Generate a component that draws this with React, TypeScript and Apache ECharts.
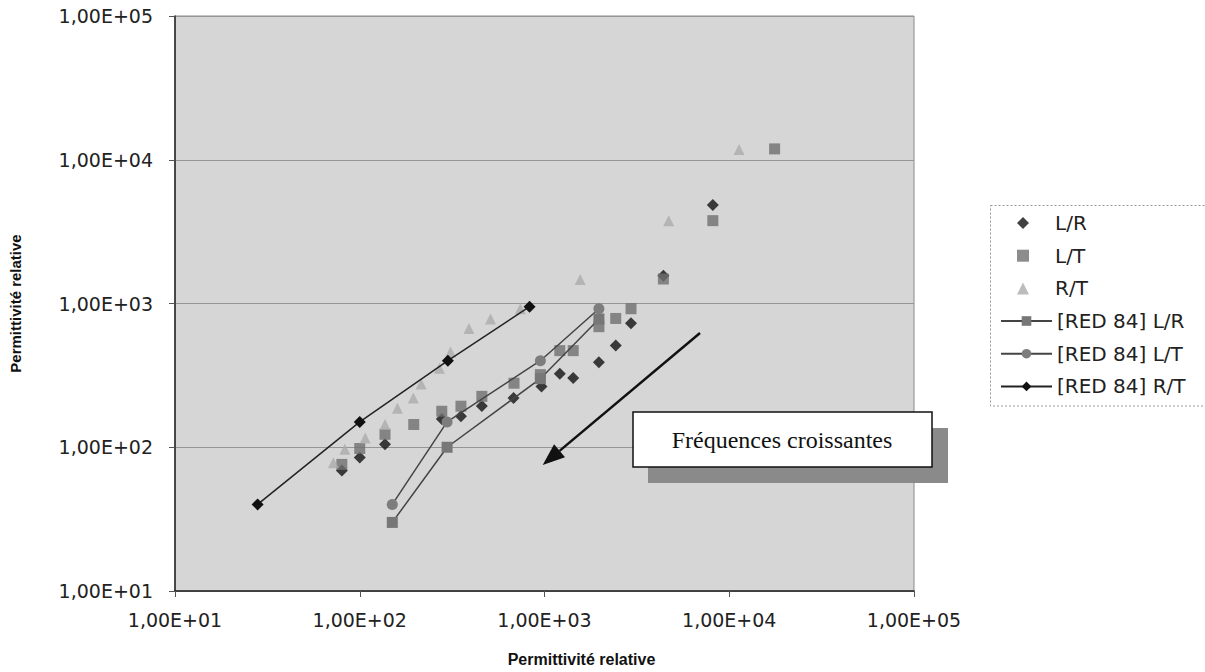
import React, { useEffect, useRef } from "react";
import * as echarts from "echarts";

// Scatter: L/R
const lrX = [80, 100, 137, 278, 353, 458, 680, 963, 1210, 1430, 1970, 2430, 2940, 4400, 8150];
const lrY = [69, 85, 105, 157, 164, 194, 220, 265, 325, 303, 390, 510, 730, 1560, 4840];
// Scatter: L/T
const ltX = [80, 100, 137, 196, 278, 353, 458, 684, 950, 1210, 1430, 1970, 2430, 2940, 4400, 8150, 17600];
const ltY = [76, 98, 123, 144, 178, 193, 226, 279, 320, 470, 470, 690, 787, 920, 1480, 3770, 11900];
// Scatter: R/T
const rtX = [72, 83, 107, 137, 160, 195, 215, 270, 310, 390, 510, 740, 1560, 4700, 11300];
const rtY = [78, 97, 116, 144, 187, 220, 275, 355, 460, 670, 780, 920, 1470, 3770, 11800];
// [RED 84] lines
const red84LrX = [150, 297, 950, 1970];
const red84LrY = [30, 100, 300, 780];
const red84LtX = [150, 297, 950, 1970];
const red84LtY = [40, 150, 400, 920];
const red84RtX = [28, 100, 300, 830];
const red84RtY = [40, 150, 400, 950];

const seriesNames = ["L/R", "L/T", "R/T", "[RED 84] L/R", "[RED 84] L/T", "[RED 84] R/T"];
const axisTitle = "Permittivité relative";
const boxText = "Fréquences croissantes";

const zip = (xs: number[], ys: number[]) => xs.map((x, i) => [x, ys[i]]);

const fmt = (v: number) => {
  const e = Math.round(Math.log10(v));
  return "1,00E+" + (e < 10 ? "0" + e : String(e));
};

const SANS = "DejaVu Sans";

export default function App() {
  const ref = useRef<HTMLDivElement>(null);
  useEffect(() => {
    document.body.style.margin = "0";
    if (!ref.current) return;
    const chart = echarts.init(ref.current, undefined, { renderer: "svg" });

    // arrow geometry (annotation)
    const tail = [700, 333];
    const tip = [542.7, 465];
    const dx = tip[0] - tail[0];
    const dy = tip[1] - tail[1];
    const len = Math.sqrt(dx * dx + dy * dy);
    const ux = dx / len;
    const uy = dy / len;
    const headL = 22;
    const headW = 8.5;
    const bc = [tip[0] - headL * ux, tip[1] - headL * uy];
    const px = -uy;
    const py = ux;

    const legendText = { fontFamily: SANS, fontSize: 20, color: "#222", lineHeight: 20 };

    chart.setOption({
      animation: false,
      grid: {
        left: 173,
        right: 291,
        top: 16,
        bottom: 78,
        show: true,
        backgroundColor: "#d6d6d6",
        borderColor: "#8a8a8a",
        borderWidth: 1,
      },
      xAxis: {
        type: "log",
        logBase: 10,
        min: 10,
        max: 100000,
        name: axisTitle,
        nameLocation: "middle",
        nameGap: 60,
        nameTextStyle: {
          fontFamily: "Liberation Sans",
          fontWeight: "bold",
          fontSize: 16,
          color: "#111",
          padding: [0, 0, 0, 74],
        },
        axisLine: { show: true, lineStyle: { color: "#222", width: 1.5 } },
        axisTick: { show: true, length: 6, lineStyle: { color: "#555" } },
        axisLabel: {
          formatter: fmt,
          margin: 19,
          fontFamily: SANS,
          fontSize: 19,
          color: "#222",
        },
        splitLine: { show: false },
        minorTick: { show: false },
      },
      yAxis: {
        type: "log",
        logBase: 10,
        min: 10,
        max: 100000,
        name: axisTitle,
        nameLocation: "middle",
        nameGap: 152,
        nameRotate: 90,
        nameTextStyle: {
          fontFamily: "Liberation Sans",
          fontWeight: "bold",
          fontSize: 15,
          color: "#111",
        },
        axisLine: { show: true, lineStyle: { color: "#222", width: 1.5 } },
        axisTick: { show: true, length: 6, lineStyle: { color: "#555" } },
        axisLabel: {
          formatter: fmt,
          margin: 22,
          fontFamily: SANS,
          fontSize: 19,
          color: "#222",
        },
        splitLine: { show: true, lineStyle: { color: "#959595", width: 1 } },
      },
      legend: [
        {
          orient: "vertical",
          left: 1017,
          top: 213,
          padding: 0,
          itemWidth: 12,
          itemHeight: 12,
          itemGap: 12.7,
          textStyle: { ...legendText, padding: [0, 0, 0, 21] },
          data: seriesNames.slice(0, 3),
        },
        {
          orient: "vertical",
          left: 1000,
          top: 311,
          padding: 0,
          itemWidth: 51,
          itemHeight: 12,
          itemGap: 12.7,
          textStyle: legendText,
          data: seriesNames.slice(3),
        },
      ],
      series: [
        {
          name: seriesNames[0],
          type: "scatter",
          symbol: "diamond",
          symbolSize: 12,
          itemStyle: { color: "#111" },
          data: zip(lrX, lrY),
        },
        {
          name: seriesNames[1],
          type: "scatter",
          symbol: "rect",
          symbolSize: 11,
          itemStyle: { color: "#6f6f6f" },
          data: zip(ltX, ltY),
        },
        {
          name: seriesNames[2],
          type: "scatter",
          symbol: "triangle",
          symbolSize: 11,
          itemStyle: { color: "#ababab" },
          data: zip(rtX, rtY),
        },
        {
          name: seriesNames[3],
          type: "line",
          symbol: "rect",
          symbolSize: 11,
          showSymbol: true,
          itemStyle: { color: "#777" },
          lineStyle: { color: "#444", width: 1.5 },
          data: zip(red84LrX, red84LrY),
        },
        {
          name: seriesNames[4],
          type: "line",
          symbol: "circle",
          symbolSize: 11,
          showSymbol: true,
          itemStyle: { color: "#7d7d7d" },
          lineStyle: { color: "#444", width: 1.5 },
          data: zip(red84LtX, red84LtY),
        },
        {
          name: seriesNames[5],
          type: "line",
          symbol: "diamond",
          symbolSize: 12,
          showSymbol: true,
          itemStyle: { color: "#111" },
          lineStyle: { color: "#222", width: 1.5 },
          data: zip(red84RtX, red84RtY),
        },
      ],
      graphic: [
        {
          type: "rect",
          shape: { x: 990.5, y: 205.5, width: 230, height: 200.5 },
          style: { fill: "none", stroke: "#999", lineWidth: 1, lineDash: [2, 2] },
          silent: true,
          z: 1,
        },
        {
          type: "line",
          shape: { x1: tail[0], y1: tail[1], x2: bc[0], y2: bc[1] },
          style: { stroke: "#111", lineWidth: 2.5 },
          z: 10,
        },
        {
          type: "polygon",
          shape: {
            points: [
              [tip[0], tip[1]],
              [bc[0] + headW * px, bc[1] + headW * py],
              [bc[0] - headW * px, bc[1] - headW * py],
            ],
          },
          style: { fill: "#111" },
          z: 10,
        },
        {
          type: "rect",
          shape: { x: 648, y: 428, width: 300, height: 55 },
          style: { fill: "#8a8a8a" },
          z: 10,
        },
        {
          type: "rect",
          shape: { x: 633, y: 412, width: 299, height: 55 },
          style: { fill: "#ffffff", stroke: "#111", lineWidth: 1.5 },
          z: 11,
        },
        {
          type: "text",
          x: 782,
          y: 440,
          style: {
            text: boxText,
            fontFamily: "Liberation Serif",
            fontSize: 24,
            fill: "#111",
            align: "center",
            verticalAlign: "middle",
          },
          z: 12,
        },
      ],
    });
    return () => chart.dispose();
  }, []);
  return <div ref={ref} style={{ width: 1205, height: 672 }} />;
}
